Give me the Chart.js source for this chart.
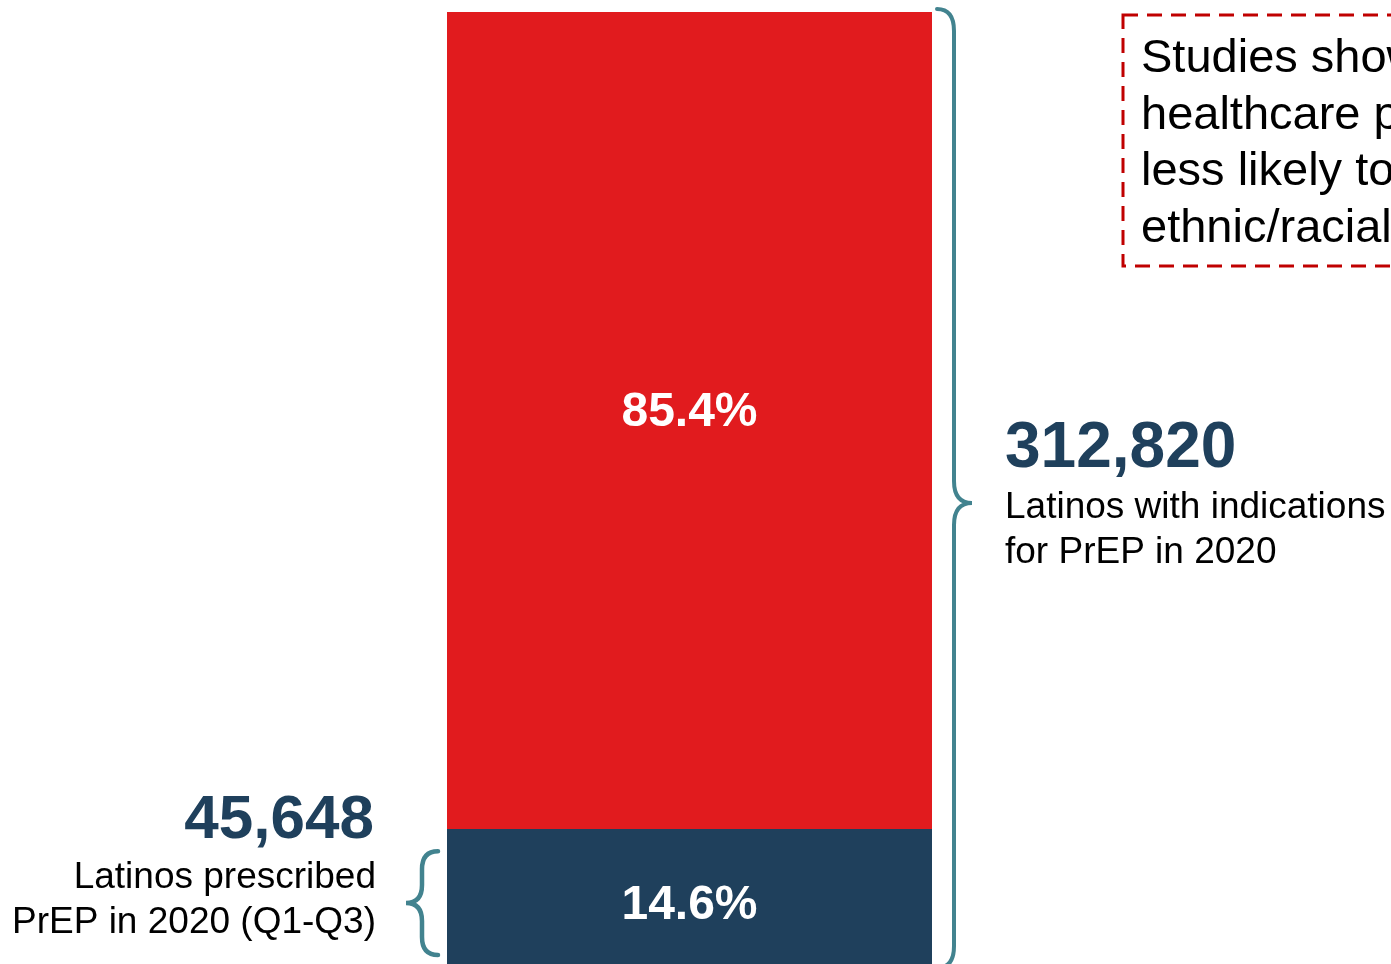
<!DOCTYPE html>
<html>
<head>
<meta charset="utf-8">
<title>PrEP entre Latinos</title>
<script src="https://cdn.jsdelivr.net/npm/chart.js@4"></script>
<style>
  html, body { margin: 0; padding: 0; background: #fff; overflow: hidden; }
  #wrap { width: 1391px; height: 964px; overflow: hidden; }
</style>
</head>
<body>
<div id="wrap"><canvas id="prep-chart" width="1391" height="969"></canvas></div>
<script>
// Dados
const categories = ['Latinos com indicação de PrEP'];
const prescribedPct = [14.6];
const notPrescribedPct = [85.4];
const prescribedCount = ['45,648'];
const indicatedCount = ['312,820'];
const prescribedLines = ['Latinos prescribed', 'PrEP in 2020 (Q1-Q3)'];
const indicatedLines = ['Latinos with indications', 'for PrEP in 2020'];
const noteLines = ['Studies show that', 'healthcare providers are', 'less likely to prescribe PrEP to', 'ethnic/racial minorities'];

// Cores
const RED = '#E11B1E';
const NAVY = '#1F405C';
const TEAL = '#42838F';
const FONT = '"Liberation Sans", Arial, Helvetica, sans-serif';

// Desenhar chave
function drawBrace(ctx, xEnd, xMid, xTip, y1, ym, y2, r) {
  ctx.beginPath();
  ctx.moveTo(xEnd, y1);
  ctx.quadraticCurveTo(xMid, y1, xMid, y1 + r);
  ctx.lineTo(xMid, ym - r);
  ctx.quadraticCurveTo(xMid, ym, xTip, ym);
  ctx.quadraticCurveTo(xMid, ym, xMid, ym + r);
  ctx.lineTo(xMid, y2 - r);
  ctx.quadraticCurveTo(xMid, y2, xEnd, y2);
  ctx.stroke();
}

// Plugin de anotações
const annotations = {
  id: 'annotations',
  afterDatasetsDraw(chart) {
    const ctx = chart.ctx;
    const y = chart.scales.y;
    const area = chart.chartArea;

    // Rótulos percentuais dentro das barras
    ctx.save();
    ctx.fillStyle = '#fff';
    ctx.font = 'bold 48px ' + FONT;
    ctx.textAlign = 'center';
    ctx.textBaseline = 'alphabetic';
    chart.data.datasets.forEach((ds, i) => {
      const bar = chart.getDatasetMeta(i).data[0];
      ctx.fillText(ds.data[0].toFixed(1) + '%', bar.x, i === 0 ? 919 : 426);
    });
    ctx.restore();

    // Chaves
    ctx.save();
    ctx.strokeStyle = TEAL;
    ctx.lineWidth = 4;
    ctx.lineCap = 'round';
    const split = y.getPixelForValue(prescribedPct[0]);
    drawBrace(ctx, area.right + 5, area.right + 22, area.right + 40, area.top - 3, 503, 968, 22);
    ctx.lineWidth = 4.5;
    drawBrace(ctx, area.left - 9, area.left - 25, area.left - 41, split + 22, 903, y.getPixelForValue(0) - 14, 18);
    ctx.restore();

    // Textos das chaves
    ctx.save();
    ctx.fillStyle = NAVY;
    ctx.font = 'bold 64px ' + FONT;
    ctx.textAlign = 'left';
    ctx.fillText(indicatedCount[0], 1005, 467);
    ctx.textAlign = 'right';
    ctx.font = 'bold 62px ' + FONT;
    ctx.fillText(prescribedCount[0], 374, 838);
    ctx.fillStyle = '#000';
    ctx.font = '37px ' + FONT;
    ctx.textAlign = 'left';
    indicatedLines.forEach((t, i) => ctx.fillText(t, 1005, 518 + i * 45));
    ctx.textAlign = 'right';
    prescribedLines.forEach((t, i) => ctx.fillText(t, 376, 888 + i * 45));
    ctx.restore();

    // Caixa tracejada
    ctx.save();
    ctx.strokeStyle = '#C00000';
    ctx.lineWidth = 3;
    ctx.setLineDash([15, 9]);
    ctx.strokeRect(1123, 15, 500, 251);
    ctx.fillStyle = '#000';
    ctx.font = '47px ' + FONT;
    ctx.textAlign = 'left';
    noteLines.forEach((t, i) => ctx.fillText(t, 1141, 72 + i * 56.5));
    ctx.restore();
  }
};

const ctx = document.getElementById('prep-chart').getContext('2d');
new Chart(ctx, {
  type: 'bar',
  data: {
    labels: categories,
    datasets: [
      { label: 'Prescribed', data: prescribedPct, backgroundColor: NAVY, borderWidth: 0 },
      { label: 'Not prescribed', data: notPrescribedPct, backgroundColor: RED, borderWidth: 0 }
    ]
  },
  options: {
    responsive: false,
    animation: false,
    layout: { padding: { left: 447, right: 459, top: 12, bottom: 0 } },
    datasets: { bar: { barPercentage: 1, categoryPercentage: 1 } },
    plugins: { legend: { display: false }, tooltip: { enabled: false } },
    scales: {
      x: { stacked: true, display: false },
      y: { stacked: true, display: false, min: 0, max: 100 }
    }
  },
  plugins: [annotations]
});
</script>
</body>
</html>
